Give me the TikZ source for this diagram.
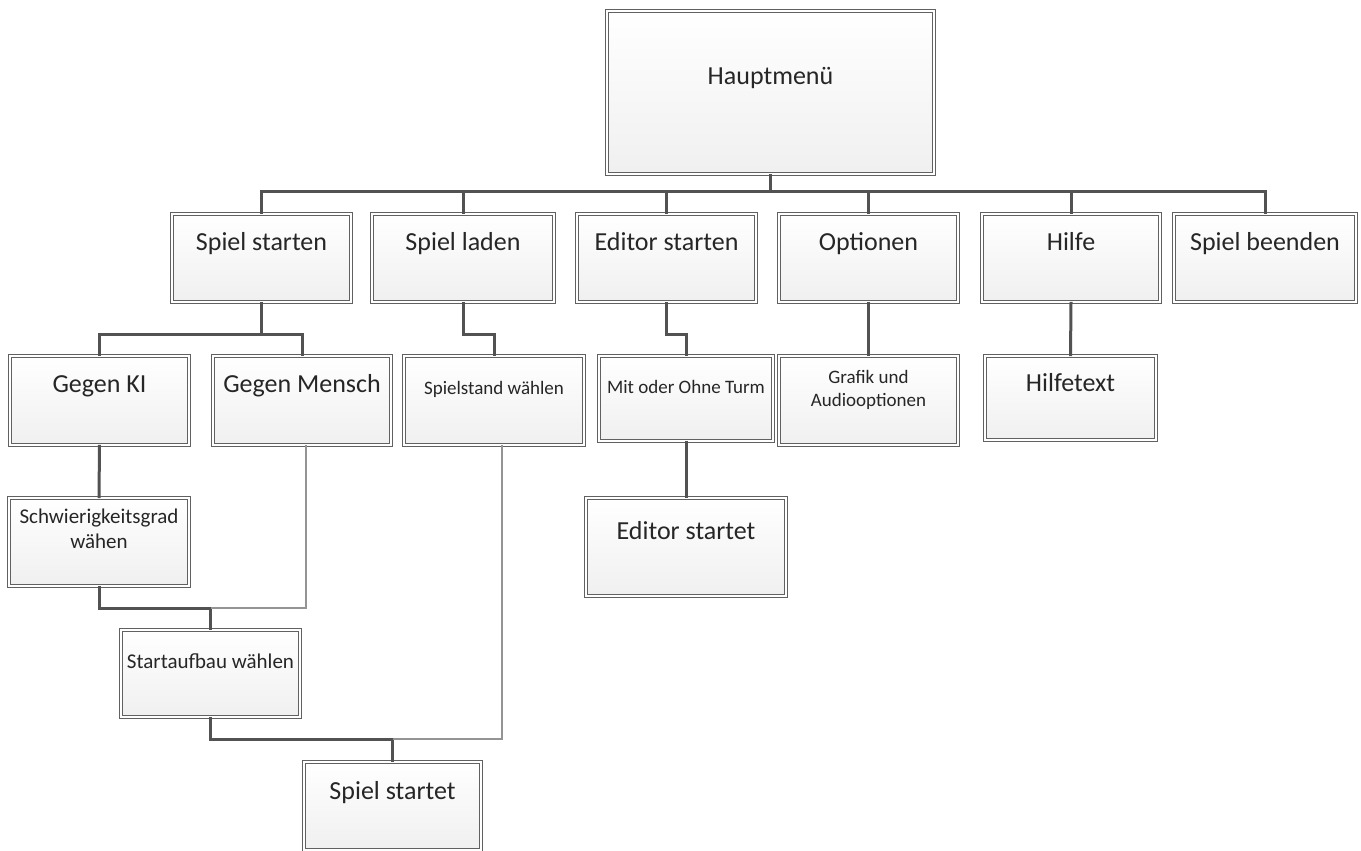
\documentclass[tikz,border=0pt]{standalone}
\usepackage{fontspec}
\setmainfont{Carlito}
\usetikzlibrary{shadows}
\tikzset{
  mbox/.style={rectangle, draw=black!62, double=white, double distance=2bp, line width=1.1bp,
    top color=white, bottom color=black!6, inner sep=0pt, outer sep=0pt,
    drop shadow={shadow xshift=2.5bp, shadow yshift=-2.5bp, opacity=0.18, fill=black!60}},
  thickcon/.style={draw=black!68, line width=3bp},
  thincon/.style={draw=black!42, line width=1.3bp},
  lbl/.style={anchor=base, inner sep=0pt, text=black!85},
  big/.style={lbl, font=\fontsize{26bp}{30bp}\selectfont},
  mid/.style={lbl, font=\fontsize{21bp}{25bp}\selectfont},
  sml/.style={lbl, font=\fontsize{19bp}{23bp}\selectfont},
}
\newcommand\mbx[5]{\node[mbox, minimum width={(#4-4.2)*1bp}, minimum height={(#5-4.2)*1bp}] (#1) at (#2,#3) {};}
\begin{document}
\begin{tikzpicture}[x=1bp,y=-1bp]
\useasboundingbox (0,0) rectangle (1361,850);
\clip (0,0) rectangle (1361,850);
% bus coordinates
\coordinate (bus) at (0,191);
\coordinate (busA) at (0,334);
\coordinate (busB) at (0,608);
\coordinate (busC) at (0,739);
% boxes
\mbx{hm}{770.5}{92.5}{331}{167}
\mbx{ss}{261.5}{258}{183}{92}
\mbx{sl}{463}{258}{186}{92}
\mbx{es}{666.5}{258}{183}{92}
\mbx{op}{868.5}{258}{183}{92}
\mbx{hi}{1071}{258}{182}{92}
\mbx{sb}{1265}{258}{186}{92}
\mbx{ki}{99.5}{400.5}{183}{93}
\mbx{me}{302}{400.5}{182}{93}
\mbx{sw}{494}{400.5}{184}{93}
\mbx{mo}{686}{398.5}{178}{89}
\mbx{ga}{868.5}{400.5}{183}{93}
\mbx{ht}{1070.5}{398}{175}{88}
\mbx{sg}{99}{542}{184}{92}
\mbx{ed}{686}{547}{204}{102}
\mbx{sa}{210.5}{673.5}{183}{91}
\mbx{st}{392.5}{806}{181}{92}
% labels
\node[big] (hm-t) at (770.5,84) {Hauptmenü};
\node[big] (ss-t) at (261.5,250) {Spiel starten};
\node[big] (sl-t) at (463,250) {Spiel laden};
\node[big] (es-t) at (666.5,250) {Editor starten};
\node[big] (op-t) at (868.5,250) {Optionen};
\node[big] (hi-t) at (1071,250) {Hilfe};
\node[big] (sb-t) at (1265,250) {Spiel beenden};
\node[big] (ki-t) at (99.5,392) {Gegen KI};
\node[big] (me-t) at (302,392) {Gegen Mensch};
\node[sml] (sw-t) at (494,394) {Spielstand wählen};
\node[sml] (mo-t) at (686,393) {Mit oder Ohne Turm};
\node[sml] (ga-t1) at (868.5,383) {Grafik und};
\node[sml] (ga-t2) at (868.5,406) {Audiooptionen};
\node[big] (ht-t) at (1070.5,391) {Hilfetext};
\node[mid] (sg-t1) at (99,523) {Schwierigkeitsgrad};
\node[mid] (sg-t2) at (99,548) {wähen};
\node[big] (ed-t) at (686,539) {Editor startet};
\node[mid] (sa-t) at (210.5,668) {Startaufbau wählen};
\node[big] (st-t) at (392.5,799) {Spiel startet};
% connectors
\draw[thickcon] (hm.south) -- (hm.south |- bus);
\foreach \n in {ss,sl,es,op,hi,sb}{
  \draw[thickcon] (hm.south |- bus) -| (\n.north);
}
\draw[thickcon] (ss.south) |- (busA -| me.north) -- (me.north);
\draw[thickcon] (ss.south) |- (busA -| ki.north) -- (ki.north);
\draw[thickcon] (sl.south) |- (busA -| sw.north) -- (sw.north);
\draw[thickcon] (es.south) |- (busA -| mo.north) -- (mo.north);
\draw[thickcon] (op.south) -- (ga.north);
\draw[thickcon] (hi.south) -- (ht.north);
\draw[thickcon] (ki.south) -- (sg.north);
\draw[thickcon] (mo.south) -- (ed.north);
\draw[thickcon] (sg.south) |- (busB -| sa.north) -- (sa.north);
\draw[thincon] ([xshift=4bp]me.south) |- (busB -| sa.north);
\draw[thickcon] (sa.south) |- (busC -| st.north) -- (st.north);
\draw[thincon] ([xshift=8bp]sw.south) |- (busC -| st.north);
\end{tikzpicture}
\end{document}
